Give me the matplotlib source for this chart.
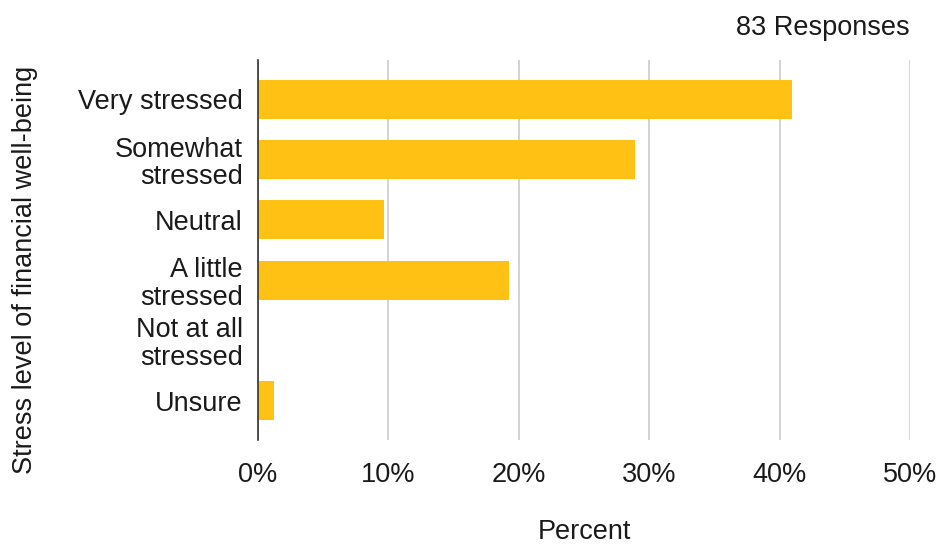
import matplotlib.pyplot as plt
from matplotlib.ticker import PercentFormatter

plt.rcParams["font.family"] = ["Liberation Sans", "DejaVu Sans"]

categories = ["Very stressed", "Somewhat\nstressed", "Neutral", "A little\nstressed",
              "Not at all\nstressed", "Unsure"]
percent = [40.96, 28.92, 9.64, 19.28, 0.0, 1.20]
responses = 83

fs = 19.5

fig = plt.figure(figsize=(9.4, 5.45), dpi=100)
ax = fig.add_axes([0.2745, 0.1927, 0.6937, 0.6972])

ax.barh(range(len(categories)), percent, height=0.65, color="#ffc214", zorder=2)

ax.set_xlim(0, 50)
ax.set_ylim(5.65, -0.65)
ax.set_xticks(range(0, 51, 10))
ax.xaxis.set_major_formatter(PercentFormatter(decimals=0))
ax.set_yticks(range(len(categories)))
ax.set_yticklabels(categories, linespacing=1.07)
ax.tick_params(axis="both", length=0, labelsize=fs, colors="#1a1a1a")
ax.tick_params(axis="x", pad=16)
ax.tick_params(axis="y", pad=11)

ax.grid(axis="x", color="#cccccc", linewidth=1.2, zorder=0)
for s in ["top", "right", "bottom"]:
    ax.spines[s].set_visible(False)
ax.spines["left"].set_color("#333333")
ax.spines["left"].set_linewidth(1.2)
ax.spines["left"].set_zorder(3)

fig.text(584 / 940, 1 - 532 / 545, "Percent", ha="center", va="center", fontsize=fs, color="#1a1a1a")
fig.text(25 / 940, 1 - 270 / 545, "Stress level of financial well-being", rotation=90,
         ha="center", va="center", fontsize=fs, color="#1a1a1a")
fig.text(910 / 940, 1 - 28 / 545, f"{responses} Responses", ha="right", va="center",
         fontsize=fs, color="#1a1a1a")

fig.savefig("out.png", dpi=100)
